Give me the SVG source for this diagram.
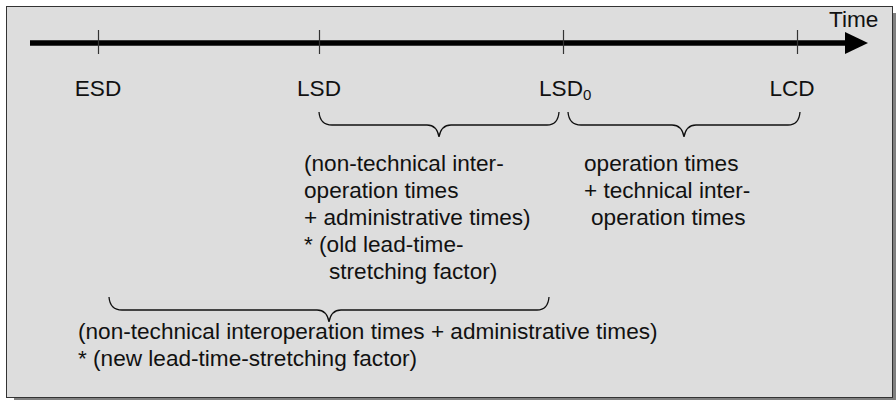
<svg xmlns="http://www.w3.org/2000/svg" width="896" height="403" viewBox="0 0 896 403">
  <style>
    text { font-family: "Liberation Sans", Arial, sans-serif; font-size: 22.6px; fill: #111; }
    .tick { stroke: #333; stroke-width: 1.2; fill: none; }
    .brace { stroke: #111; stroke-width: 1.3; fill: none; }
  </style>
  <rect x="14" y="13" width="882" height="387" fill="#808080"/>
  <rect x="6.5" y="6.5" width="886" height="391" fill="#dddddd" stroke="#333" stroke-width="1"/>

  <g id="timeline">
    <line x1="30" y1="43" x2="848" y2="43" stroke="#000" stroke-width="5.5"/>
    <polygon points="845,32 868,43 845,54" fill="#000"/>
    <text x="829" y="27">Time</text>
  </g>

  <g id="ESD">
    <line class="tick" x1="98.5" y1="30" x2="98.5" y2="54"/>
    <text x="98" y="96" text-anchor="middle">ESD</text>
  </g>
  <g id="LSD">
    <line class="tick" x1="319.5" y1="30" x2="319.5" y2="54"/>
    <text x="319" y="96" text-anchor="middle">LSD</text>
  </g>
  <g id="LSD0">
    <line class="tick" x1="563.5" y1="30" x2="563.5" y2="54"/>
    <text x="539" y="96">LSD<tspan font-size="15" dy="4">0</tspan></text>
  </g>
  <g id="LCD">
    <line class="tick" x1="797.5" y1="30" x2="797.5" y2="54"/>
    <text x="792" y="96" text-anchor="middle">LCD</text>
  </g>

  <g id="connectors">
    <path class="brace" d="M319,112 Q320,125 332,125 H427 Q437,125 439,137 Q441,125 451,125 H547 Q558,125 559,112"/>
    <path class="brace" d="M568,112 Q569,125 581,125 H672 Q682,125 684,137 Q686,125 696,125 H788 Q799,125 800,112"/>
    <path class="brace" d="M109,297 Q110,310 122,310 H317 Q327,310 329,322 Q331,310 341,310 H537 Q548,310 549,297"/>
  </g>

  <g id="old-factor">
    <text x="304" y="171">(non-technical inter-</text>
    <text x="304" y="198">operation times</text>
    <text x="304" y="225">+ administrative times)</text>
    <text x="304" y="252">* (old lead-time-</text>
    <text x="329" y="279">stretching factor)</text>
  </g>

  <g id="operation">
    <text x="584" y="171">operation times</text>
    <text x="584" y="198">+ technical inter-</text>
    <text x="591" y="225">operation times</text>
  </g>

  <g id="new-factor">
    <text x="78" y="339">(non-technical interoperation times + administrative times)</text>
    <text x="78" y="366">* (new lead-time-stretching factor)</text>
  </g>
</svg>
